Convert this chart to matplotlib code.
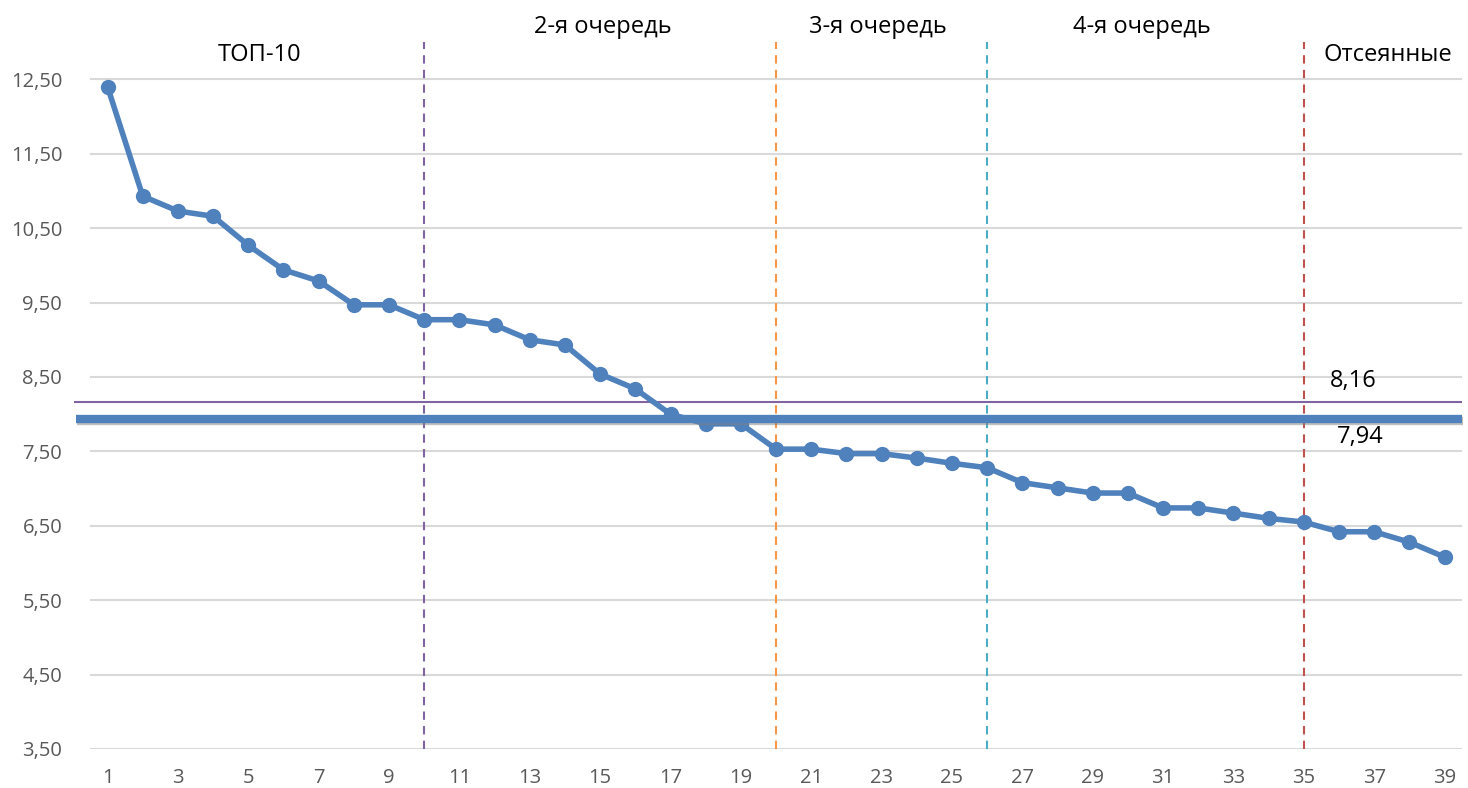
import matplotlib.pyplot as plt
import matplotlib.patheffects as pe

# ranked scores
places = list(range(1, 40))
scores = [12.40, 10.93, 10.73, 10.66, 10.27, 9.94, 9.79, 9.47, 9.47, 9.27,
          9.27, 9.20, 9.00, 8.93, 8.54, 8.34, 8.00, 7.87, 7.87, 7.53,
          7.53, 7.47, 7.47, 7.41, 7.34, 7.28, 7.08, 7.01, 6.94, 6.94,
          6.74, 6.74, 6.67, 6.60, 6.55, 6.42, 6.42, 6.28, 6.08]

# thresholds
level_high = 8.16
level_low = 7.94

# group borders and names
borders = [10, 20, 26, 35]
border_colors = ['#8064A2', '#F79646', '#4BACC6', '#C0504D']
group_names = ['ТОП-10', '2-я очередь', '3-я очередь', '4-я очередь', 'Отсеянные']
group_x = [5.33, 15.07, 22.9, 30.4, 37.4]
group_y = [12.83, 13.2, 13.2, 13.2, 12.83]

yticks = [3.5, 4.5, 5.5, 6.5, 7.5, 8.5, 9.5, 10.5, 11.5, 12.5]
xticks = list(range(1, 40, 2))

plt.rcParams['font.family'] = ['Open Sans', 'DejaVu Sans']

fig = plt.figure(figsize=(14.68, 7.88), dpi=100)
ax = fig.add_axes([0.0613, 0.0495, 0.9347, 0.9442])

# gridlines
for y in yticks:
    ax.axhline(y, color='#D9D9D9', lw=1.5, zorder=0)

# vertical dashed borders
for x, c in zip(borders, border_colors):
    ax.vlines(x, 3.5, 13.0, colors=c, linestyles=(0, (4, 3)), lw=1.5, zorder=1)

# threshold lines
ax.hlines(level_high, 0.05, 39.5, colors='#8064A2', lw=1.5, clip_on=False, zorder=2)
ax.hlines(level_low, 0.1, 39.5, colors='#4F81BD', lw=6, clip_on=False, zorder=4,
          path_effects=[pe.SimpleLineShadow(offset=(0.5, -1.5), shadow_color='gray', alpha=0.5),
                        pe.Normal()])

# main series
ax.plot(places, scores, color='#4F81BD', lw=4, marker='o', markersize=10, zorder=3)

# labels
for name, x, y in zip(group_names, group_x, group_y):
    ax.text(x, y, name, ha='center', va='center', fontsize=17, color='black')
ax.text(36.4, 8.45, '8,16', ha='center', va='center', fontsize=17, color='black')
ax.text(36.6, 7.69, '7,94', ha='center', va='center', fontsize=17, color='black')

ax.set_xlim(0.5, 39.5)
ax.set_ylim(3.5, 13.5)
ax.set_yticks(yticks)
ax.set_yticklabels([f'{v:.2f}'.replace('.', ',') for v in yticks])
ax.set_xticks(xticks)
ax.set_xticklabels([str(v) for v in xticks])
ax.tick_params(length=0, labelsize=14.5, colors='#595959')
ax.tick_params(axis='x', pad=14)
ax.tick_params(axis='y', pad=20)
for s in ax.spines.values():
    s.set_visible(False)

fig.savefig('out.png', dpi=100)
